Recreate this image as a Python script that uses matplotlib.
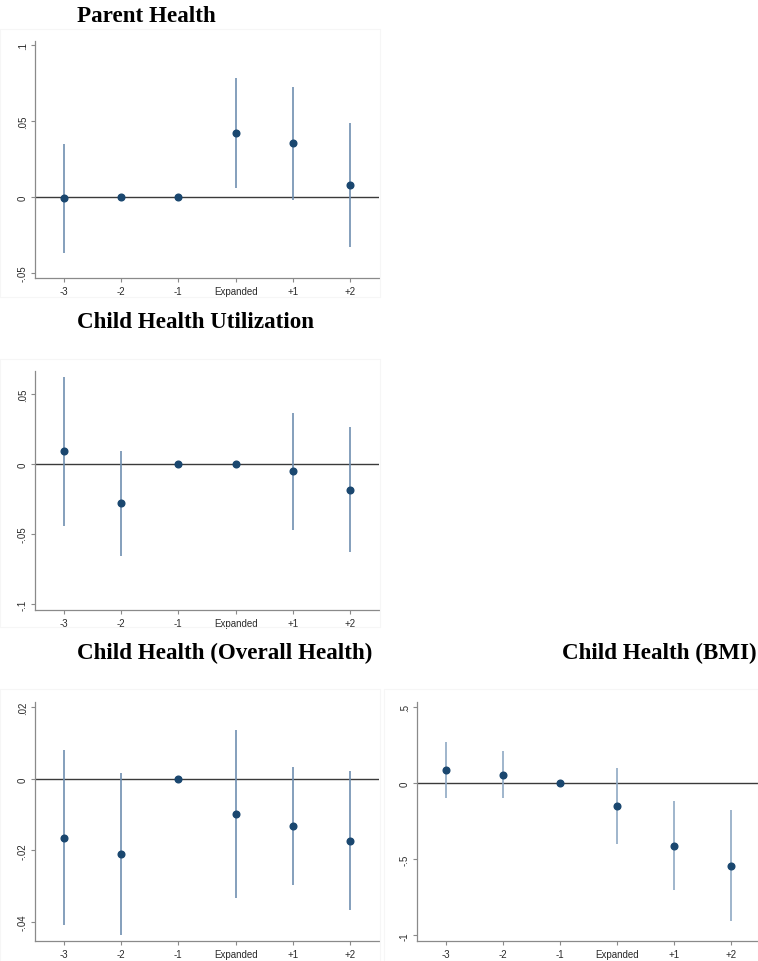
import matplotlib.pyplot as plt
from matplotlib.patches import Rectangle
import numpy as np

periods = ["-3", "-2", "-1", "Expanded", "+1", "+2"]

parent_est = [-0.0009, 0.0, 0.0, 0.0419, 0.0353, 0.0079]
parent_lo = [-0.0368, np.nan, np.nan, 0.0057, -0.0018, -0.0331]
parent_hi = [0.0349, np.nan, np.nan, 0.0783, 0.0724, 0.0487]

util_est = [0.0091, -0.0281, 0.0, 0.0, -0.0050, -0.0183]
util_lo = [-0.0443, -0.0659, np.nan, np.nan, -0.0469, -0.0631]
util_hi = [0.0624, 0.0095, np.nan, np.nan, 0.0369, 0.0262]

overall_est = [-0.0165, -0.0211, 0.0, -0.0099, -0.0131, -0.0173]
overall_lo = [-0.0409, -0.0435, np.nan, -0.0333, -0.0297, -0.0367]
overall_hi = [0.0080, 0.0016, np.nan, 0.0137, 0.0034, 0.0021]

bmi_est = [0.090, 0.057, 0.0, -0.147, -0.410, -0.544]
bmi_lo = [-0.094, -0.099, np.nan, -0.397, -0.704, -0.906]
bmi_hi = [0.274, 0.211, np.nan, 0.103, -0.116, -0.178]

W, H = 758, 962
NAVY = "#1a476f"
CI_COLOR = "#6f8fb0"


def px_axes(fig, left, top, right, bottom):
    return fig.add_axes([left / W, 1 - bottom / H, (right - left) / W, (bottom - top) / H])


def draw_panel(ax, est, lo, hi, ylim, yticks, yticklabels, ci_color=CI_COLOR):
    x = np.arange(len(periods))
    ax.axhline(0, color="#3a3a3a", linewidth=1.0, zorder=1)
    ax.vlines(x, lo, hi, color=ci_color, linewidth=1.2, zorder=2)
    ax.plot(x, est, "o", color=NAVY, markersize=4.8, zorder=3)
    ax.set_xlim(-0.5, 5.5)
    ax.set_ylim(*ylim)
    ax.set_xticks(x)
    ax.set_xticklabels(periods)
    ax.set_yticks(yticks)
    ax.set_yticklabels(yticklabels, rotation=90, va="center")
    for side in ["top", "right"]:
        ax.spines[side].set_visible(False)
    for side in ["left", "bottom"]:
        ax.spines[side].set_color("#8a8a8a")
        ax.spines[side].set_linewidth(0.9)
    ax.tick_params(axis="both", colors="#8a8a8a", labelcolor="#2a2a2a", labelsize=7, length=3, width=0.8)
    ax.tick_params(axis="y", pad=2)
    ax.tick_params(axis="x", pad=3)
    for lbl in ax.get_xticklabels() + ax.get_yticklabels():
        lbl.set_fontfamily("Liberation Sans")


fig = plt.figure(figsize=(W / 100, H / 100), dpi=100)
fig.patch.set_facecolor("white")

# faint panel frames
for (l, t, r, b) in [(0, 30, 380, 298), (0, 360, 380, 628), (0, 690, 380, 962), (384, 690, 758, 962)]:
    fig.patches.append(Rectangle((l / W, 1 - b / H), (r - l) / W, (b - t) / H,
                                 transform=fig.transFigure, fill=False,
                                 edgecolor="#f6f6f6", linewidth=0.8, zorder=0))

title_kw = dict(fontfamily="Liberation Serif", fontweight="bold", fontsize=16.6, va="center")

ax1 = px_axes(fig, 35, 42, 379, 279)
draw_panel(ax1, parent_est, parent_lo, parent_hi, (-0.0533, 0.1026),
           [-0.05, 0, 0.05, 0.1], ["-.05", "0", ".05", ".1"])
fig.text(77 / W, 1 - 17 / H, "Parent Health", ha="left", **title_kw)

ax2 = px_axes(fig, 35, 372, 379, 611)
draw_panel(ax2, util_est, util_lo, util_hi, (-0.1043, 0.0666),
           [-0.1, -0.05, 0, 0.05], ["-.1", "-.05", "0", ".05"])
fig.text(77 / W, 1 - 323 / H, "Child Health Utilization", ha="left", **title_kw)

ax3 = px_axes(fig, 35, 703, 379, 942)
draw_panel(ax3, overall_est, overall_lo, overall_hi, (-0.0453, 0.0215),
           [-0.04, -0.02, 0, 0.02], ["-.04", "-.02", "0", ".02"])
fig.text(77 / W, 1 - 653 / H, "Child Health (Overall Health)", ha="left", **title_kw)

ax4 = px_axes(fig, 417, 703, 760, 942)
draw_panel(ax4, bmi_est, bmi_lo, bmi_hi, (-1.037, 0.535),
           [-1, -0.5, 0, 0.5], ["-1", "-.5", "0", ".5"], ci_color="#8fa9c4")
fig.text(757 / W, 1 - 653 / H, "Child Health (BMI)", ha="right", **title_kw)

fig.savefig("out.png", dpi=100)
plt.close(fig)
